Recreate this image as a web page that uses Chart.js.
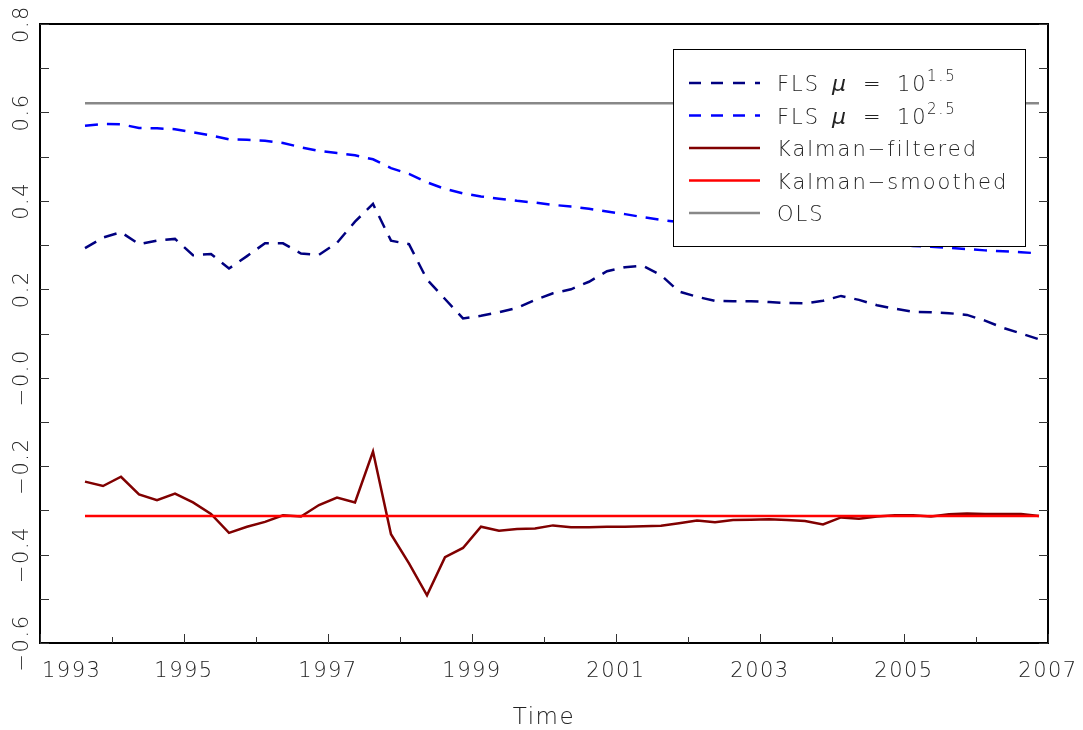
<!DOCTYPE html>
<html>
<head>
<meta charset="utf-8">
<script src="https://cdn.jsdelivr.net/npm/chart.js@4.4.1/dist/chart.umd.min.js"></script>
<style>
  html, body { margin:0; padding:0; background:#fff; }
  #wrap { width:1083px; height:730px; position:relative; }
</style>
</head>
<body>
<div id="wrap"><canvas id="c"></canvas></div>
<script>
// quarterly time points
const timePoints = [
  1993.625, 1993.875, 1994.125, 1994.375, 1994.625, 1994.875, 1995.125, 1995.375, 1995.625, 1995.875,
  1996.125, 1996.375, 1996.625, 1996.875, 1997.125, 1997.375, 1997.625, 1997.875, 1998.125, 1998.375,
  1998.625, 1998.875, 1999.125, 1999.375, 1999.625, 1999.875, 2000.125, 2000.375, 2000.625, 2000.875,
  2001.125, 2001.375, 2001.625, 2001.875, 2002.125, 2002.375, 2002.625, 2002.875, 2003.125, 2003.375,
  2003.625, 2003.875, 2004.125, 2004.375, 2004.625, 2004.875, 2005.125, 2005.375, 2005.625, 2005.875,
  2006.125, 2006.375, 2006.625, 2006.875
];

const fls15 = [
  0.293, 0.317, 0.329, 0.302, 0.310, 0.314, 0.277, 0.280, 0.247, 0.275,
  0.304, 0.304, 0.281, 0.278, 0.305, 0.353, 0.393, 0.310, 0.302, 0.222,
  0.178, 0.134, 0.140, 0.148, 0.158, 0.176, 0.191, 0.200, 0.217, 0.241,
  0.250, 0.253, 0.232, 0.195, 0.183, 0.174, 0.173, 0.173, 0.171, 0.169,
  0.168, 0.174, 0.185, 0.176, 0.164, 0.156, 0.149, 0.148, 0.146, 0.142,
  0.129, 0.113, 0.100, 0.087
];

const fls25 = [
  0.570, 0.574, 0.573, 0.565, 0.564, 0.562, 0.555, 0.548, 0.539, 0.538,
  0.536, 0.531, 0.521, 0.513, 0.508, 0.503, 0.494, 0.474, 0.461, 0.442,
  0.427, 0.417, 0.410, 0.405, 0.400, 0.396, 0.391, 0.387, 0.382, 0.376,
  0.370, 0.363, 0.357, 0.352, 0.347, 0.343, 0.339, 0.334, 0.330, 0.326,
  0.322, 0.317, 0.313, 0.309, 0.305, 0.301, 0.298, 0.296, 0.294, 0.291,
  0.288, 0.286, 0.284, 0.281
];

const kalmanFiltered = [
  -0.235, -0.245, -0.224, -0.264, -0.277, -0.262, -0.282, -0.308, -0.351, -0.337,
  -0.326, -0.311, -0.314, -0.288, -0.271, -0.282, -0.167, -0.354, -0.420, -0.492,
  -0.406, -0.385, -0.337, -0.346, -0.342, -0.341, -0.334, -0.338, -0.338, -0.337,
  -0.337, -0.336, -0.335, -0.329, -0.323, -0.327, -0.322, -0.321, -0.320, -0.322,
  -0.324, -0.332, -0.316, -0.319, -0.314, -0.311, -0.311, -0.314, -0.309, -0.307,
  -0.308, -0.308, -0.308, -0.313
];

const kalmanSmoothed = -0.313;
const olsValue = 0.621;

const yTickValues = [-0.6, -0.5, -0.4, -0.3, -0.2, -0.1, 0.0, 0.1, 0.2, 0.3, 0.4, 0.5, 0.6, 0.7, 0.8];
const yLabelValues = [-0.6, -0.4, -0.2, 0.0, 0.2, 0.4, 0.6, 0.8];
const yLabels = ['\u22120.6', '\u22120.4', '\u22120.2', '\u22120.0', '0.2', '0.4', '0.6', '0.8'];
const xTickYears = [1993, 1994, 1995, 1996, 1997, 1998, 1999, 2000, 2001, 2002, 2003, 2004, 2005, 2006, 2007];
const xLabelYears = [1993, 1995, 1997, 1999, 2001, 2003, 2005, 2007];

// legend text pieces: [text, kind] where kind is normal / italic / sup
const legendNames = [
  [['FLS', 'n'], ['\u03bc', 'i'], ['=', 'n'], ['10', 'n'], ['1.5', 's']],
  [['FLS', 'n'], ['\u03bc', 'i'], ['=', 'n'], ['10', 'n'], ['2.5', 's']],
  [['Kalman\u2212filtered', 'n']],
  [['Kalman\u2212smoothed', 'n']],
  [['OLS', 'n']]
];
const legendPieceX = [0, 55, 86, 120, 150];

const FONT = '"DejaVu Sans", "Liberation Sans", sans-serif';

function pts(vals) { return timePoints.map((t, i) => ({ x: t, y: vals[i] })); }
function flat(v) { return [{ x: timePoints[0], y: v }, { x: timePoints[timePoints.length - 1], y: v }]; }

const datasets = [
  { label: 'FLS 1.5', data: pts(fls15), borderColor: '#000080', borderDash: [13, 9], order: 2 },
  { label: 'FLS 2.5', data: pts(fls25), borderColor: '#0000ff', borderDash: [13, 9], order: 3 },
  { label: 'Kalman-filtered', data: pts(kalmanFiltered), borderColor: '#800000', order: 1 },
  { label: 'Kalman-smoothed', data: flat(kalmanSmoothed), borderColor: '#ff0000', order: 0 },
  { label: 'OLS', data: flat(olsValue), borderColor: '#888888', order: 4 }
];
datasets.forEach(d => { d.borderWidth = 2.5; d.pointRadius = 0; d.fill = false; d.tension = 0; });

function setSpacing(ctx, s) { if ('letterSpacing' in ctx) ctx.letterSpacing = s; }

const framePlugin = {
  id: 'framePlugin',
  afterDraw(chart) {
    const { ctx, chartArea: a, scales: { x, y } } = chart;
    ctx.save();

    // legend box
    const lx = a.right - 375, ly = a.top + 25, lw = 352, lh = 197;
    ctx.fillStyle = '#fff';
    ctx.fillRect(lx, ly, lw, lh);
    ctx.strokeStyle = '#000';
    ctx.lineWidth = 1;
    ctx.strokeRect(lx + 0.5, ly + 0.5, lw, lh);
    chart.data.datasets.forEach((d, i) => {
      const cy = ly + 34 + i * 32.5;
      ctx.beginPath();
      ctx.strokeStyle = d.borderColor;
      ctx.lineWidth = 2.5;
      ctx.setLineDash(d.borderDash ? [12, 10] : []);
      ctx.moveTo(lx + 16, cy);
      ctx.lineTo(lx + 87, cy);
      ctx.stroke();
      ctx.setLineDash([]);
      const tx = lx + 104;
      const base = cy + 8;
      ctx.fillStyle = '#222';
      ctx.textAlign = 'left';
      ctx.textBaseline = 'alphabetic';
      setSpacing(ctx, '2px');
      legendNames[i].forEach(([p, kind], k) => {
        if (kind === 'i') ctx.font = 'italic 200 22px ' + FONT;
        else if (kind === 's') ctx.font = '200 15px ' + FONT;
        else ctx.font = '200 21px ' + FONT;
        const yy = kind === 's' ? base - 10 : base;
        ctx.fillText(p, tx + legendPieceX[k], yy);
      });
    });

    // frame
    ctx.strokeStyle = '#000';
    ctx.lineWidth = 2;
    ctx.strokeRect(a.left, a.top, a.right - a.left, a.bottom - a.top);

    // ticks
    ctx.strokeStyle = '#333';
    ctx.lineWidth = 1;
    ctx.beginPath();
    yTickValues.forEach(v => {
      const py = Math.round(y.getPixelForValue(v)) + 0.5;
      ctx.moveTo(a.left, py); ctx.lineTo(a.left + 9, py);
      ctx.moveTo(a.right, py); ctx.lineTo(a.right - 9, py);
    });
    xTickYears.forEach(v => {
      const px = Math.round(x.getPixelForValue(v)) + 0.5;
      const len = v % 2 === 1 ? 9 : 6;
      ctx.moveTo(px, a.bottom); ctx.lineTo(px, a.bottom - len);
    });
    ctx.stroke();

    // labels
    ctx.fillStyle = '#222';
    ctx.font = '200 21px ' + FONT;
    setSpacing(ctx, '1.5px');
    ctx.textBaseline = 'alphabetic';
    xLabelYears.forEach((v, i) => {
      const px = x.getPixelForValue(v);
      if (i === 0) { ctx.textAlign = 'left'; ctx.fillText(String(v), px + 2, a.bottom + 34); }
      else { ctx.textAlign = 'center'; ctx.fillText(String(v), px, a.bottom + 34); }
    });
    yLabelValues.forEach((v, i) => {
      const py = y.getPixelForValue(v);
      ctx.save();
      ctx.translate(a.left - 12, py);
      ctx.rotate(-Math.PI / 2);
      ctx.textAlign = 'center';
      ctx.fillText(yLabels[i], 0, 0);
      ctx.restore();
    });
    ctx.font = '200 23px ' + FONT;
    ctx.textAlign = 'center';
    ctx.fillText('Time', (a.left + a.right) / 2, a.bottom + 81);
    ctx.restore();
  }
};

new Chart(document.getElementById('c'), {
  type: 'line',
  data: { datasets },
  options: {
    responsive: true,
    maintainAspectRatio: false,
    animation: false,
    layout: { padding: { left: 40, right: 35, top: 24, bottom: 87 } },
    plugins: { legend: { display: false }, tooltip: { enabled: false } },
    scales: {
      x: { type: 'linear', min: 1993, max: 2007, display: false },
      y: { type: 'linear', min: -0.6, max: 0.8, display: false }
    }
  },
  plugins: [framePlugin]
});
</script>
</body>
</html>
